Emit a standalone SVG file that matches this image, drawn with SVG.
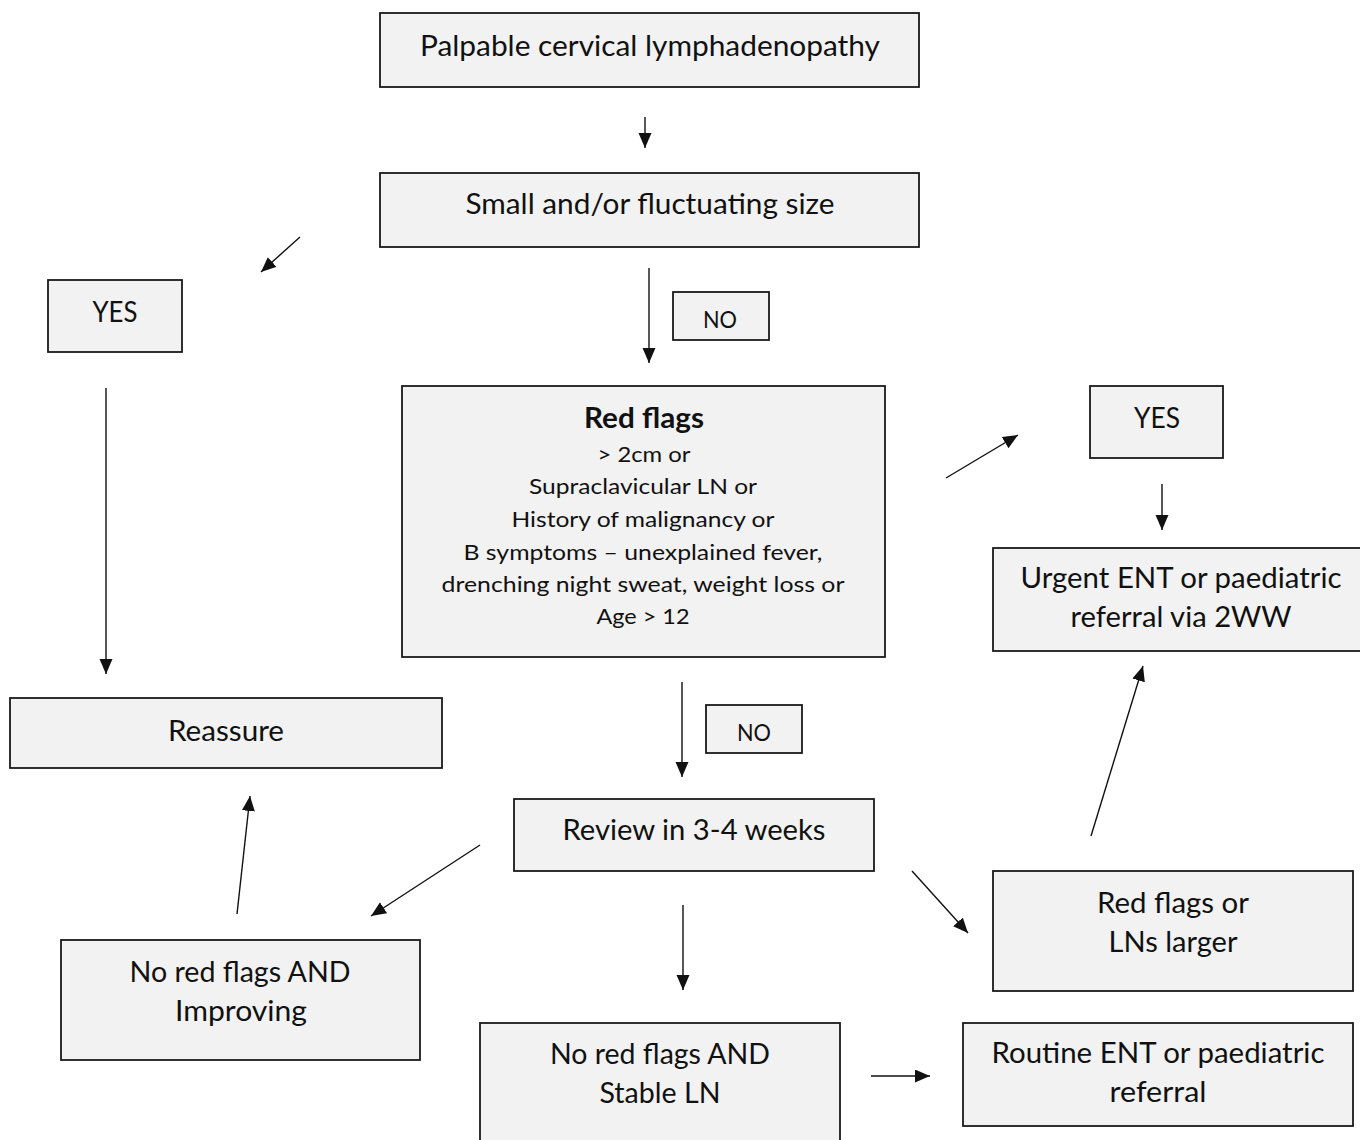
<svg xmlns="http://www.w3.org/2000/svg" width="1360" height="1140" viewBox="0 0 1360 1140">
<style>
.box{fill:#f2f2f2;stroke:#1a1a1a;stroke-width:1.8}
.t{font-family:Lato,"Open Sans","Liberation Sans",sans-serif;font-size:28px;fill:#111;text-anchor:middle}
.s{font-size:22px}
.n{font-size:23px}
.b{font-weight:bold}
.c{stroke:#111;stroke-width:1.4;fill:none;marker-end:url(#ah)}
</style>
<defs>
<marker id="ah" markerUnits="userSpaceOnUse" markerWidth="16" markerHeight="14" refX="15" refY="6.5" orient="auto">
<path d="M0,0 L15,6.5 L0,13 z" fill="#111"/>
</marker>
</defs>
<rect width="1360" height="1140" fill="#fff"/>
<g id="connectors">
<line class="c" x1="645" y1="117" x2="645" y2="148"/>
<line class="c" x1="300" y1="237" x2="261" y2="272"/>
<line class="c" x1="649" y1="268" x2="649" y2="363"/>
<line class="c" x1="106" y1="388" x2="106" y2="674"/>
<line class="c" x1="946" y1="478" x2="1018" y2="435"/>
<line class="c" x1="1162" y1="484" x2="1162" y2="530"/>
<line class="c" x1="682" y1="682" x2="682" y2="777"/>
<line class="c" x1="480" y1="845" x2="371" y2="916"/>
<line class="c" x1="237" y1="914" x2="250" y2="796"/>
<line class="c" x1="683" y1="905" x2="683" y2="990"/>
<line class="c" x1="912" y1="871" x2="968" y2="933"/>
<line class="c" x1="1091" y1="836" x2="1143" y2="666"/>
<line class="c" x1="871" y1="1076" x2="930" y2="1076"/>
</g>
<g id="n-palpable"><rect class="box" x="380" y="13" width="539" height="74"/><text class="t" x="650" y="56" textLength="460" lengthAdjust="spacingAndGlyphs">Palpable cervical lymphadenopathy</text></g>
<g id="n-small"><rect class="box" x="380" y="173" width="539" height="74"/><text class="t" x="650" y="214" textLength="369" lengthAdjust="spacingAndGlyphs">Small and/or fluctuating size</text></g>
<g id="n-yes1"><rect class="box" x="48" y="280" width="134" height="72"/><text class="t" x="115" y="322" textLength="45" lengthAdjust="spacingAndGlyphs">YES</text></g>
<g id="n-no1"><rect class="box" x="673" y="292" width="96" height="48"/><text class="t n" x="720" y="328" textLength="34" lengthAdjust="spacingAndGlyphs">NO</text></g>
<g id="n-redflags"><rect class="box" x="402" y="386" width="483" height="271"/>
<text class="t b" x="644" y="428" textLength="120" lengthAdjust="spacingAndGlyphs">Red flags</text>
<text class="t s" x="644" y="462" textLength="93" lengthAdjust="spacingAndGlyphs">&gt; 2cm or</text>
<text class="t s" x="643" y="494" textLength="228" lengthAdjust="spacingAndGlyphs">Supraclavicular LN or</text>
<text class="t s" x="643" y="527" textLength="263" lengthAdjust="spacingAndGlyphs">History of malignancy or</text>
<text class="t s" x="643" y="560" textLength="359" lengthAdjust="spacingAndGlyphs">B symptoms – unexplained fever,</text>
<text class="t s" x="643" y="592" textLength="403" lengthAdjust="spacingAndGlyphs">drenching night sweat, weight loss or</text>
<text class="t s" x="643" y="624" textLength="93" lengthAdjust="spacingAndGlyphs">Age &gt; 12</text></g>
<g id="n-yes2"><rect class="box" x="1090" y="386" width="133" height="72"/><text class="t" x="1157" y="428" textLength="46" lengthAdjust="spacingAndGlyphs">YES</text></g>
<g id="n-urgent"><rect class="box" x="993" y="548" width="380" height="103"/><text class="t" x="1181" y="588" textLength="321" lengthAdjust="spacingAndGlyphs">Urgent ENT or paediatric</text><text class="t" x="1181" y="627" textLength="221" lengthAdjust="spacingAndGlyphs">referral via 2WW</text></g>
<g id="n-reassure"><rect class="box" x="10" y="698" width="432" height="70"/><text class="t" x="226" y="741" textLength="116" lengthAdjust="spacingAndGlyphs">Reassure</text></g>
<g id="n-no2"><rect class="box" x="706" y="705" width="96" height="48"/><text class="t n" x="754" y="741" textLength="34" lengthAdjust="spacingAndGlyphs">NO</text></g>
<g id="n-review"><rect class="box" x="514" y="799" width="360" height="72"/><text class="t" x="694" y="840" textLength="263" lengthAdjust="spacingAndGlyphs">Review in 3-4 weeks</text></g>
<g id="n-improving"><rect class="box" x="61" y="940" width="359" height="120"/><text class="t" x="240" y="982" textLength="221" lengthAdjust="spacingAndGlyphs">No red flags AND</text><text class="t" x="241" y="1021" textLength="132" lengthAdjust="spacingAndGlyphs">Improving</text></g>
<g id="n-larger"><rect class="box" x="993" y="871" width="360" height="120"/><text class="t" x="1173" y="913" textLength="152" lengthAdjust="spacingAndGlyphs">Red flags or</text><text class="t" x="1173" y="952" textLength="129" lengthAdjust="spacingAndGlyphs">LNs larger</text></g>
<g id="n-stable"><rect class="box" x="480" y="1023" width="360" height="140"/><text class="t" x="660" y="1064" textLength="220" lengthAdjust="spacingAndGlyphs">No red flags AND</text><text class="t" x="660" y="1103" textLength="121" lengthAdjust="spacingAndGlyphs">Stable LN</text></g>
<g id="n-routine"><rect class="box" x="963" y="1023" width="390" height="103"/><text class="t" x="1158" y="1063" textLength="333" lengthAdjust="spacingAndGlyphs">Routine ENT or paediatric</text><text class="t" x="1158" y="1102" textLength="97" lengthAdjust="spacingAndGlyphs">referral</text></g>
</svg>
